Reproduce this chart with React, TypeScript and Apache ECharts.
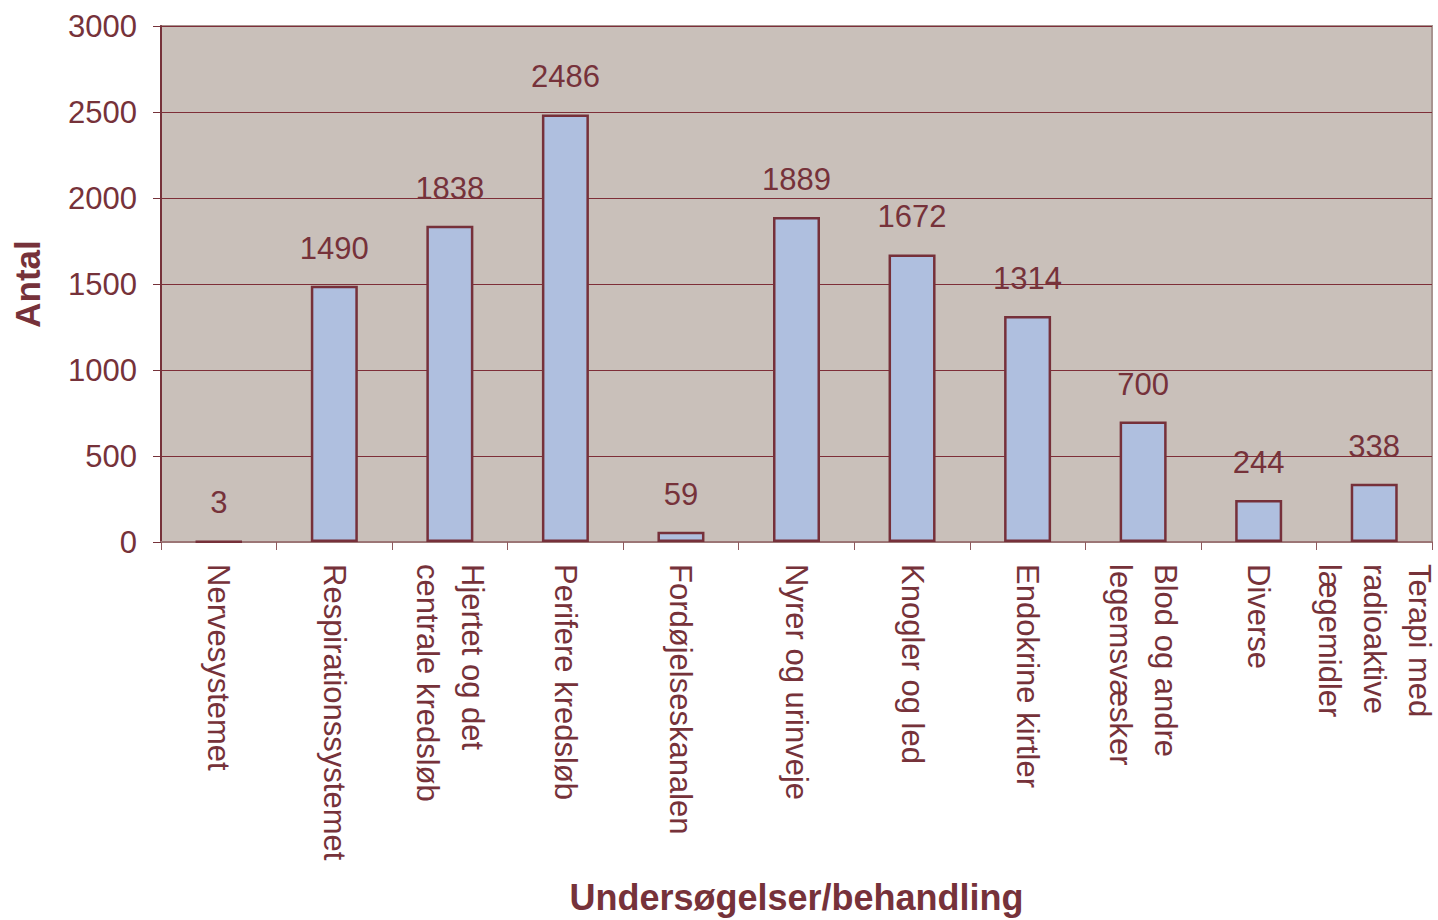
import React, { useEffect, useRef } from "react";
import * as echarts from "echarts";

const categories = [
  "Nervesystemet",
  "Respirationssystemet",
  "Hjertet og det\ncentrale kredsløb",
  "Perifere kredsløb",
  "Fordøjelseskanalen",
  "Nyrer og urinveje",
  "Knogler og led",
  "Endokrine kirtler",
  "Blod og andre\nlegemsvæsker",
  "Diverse",
  "Terapi med\nradioaktive\nlægemidler",
];
const values = [3, 1490, 1838, 2486, 59, 1889, 1672, 1314, 700, 244, 338];
const yAxisName = "Antal";
const xAxisName = "Undersøgelser/behandling";

const TEXT = "#76323A";
const FONT = "'Liberation Sans', Arial, sans-serif";

export default function App() {
  const ref = useRef<HTMLDivElement>(null);
  useEffect(() => {
    if (!ref.current) return;
    const chart = echarts.init(ref.current, undefined, { renderer: "svg" });
    chart.setOption({
      animation: false,
      textStyle: { fontFamily: FONT },
      grid: {
        left: 161,
        right: 6,
        top: 26,
        bottom: 378,
        outerBoundsMode: "none",
        containLabel: false,
        show: true,
        backgroundColor: "#C9C0BA",
        borderColor: "#A89490",
        borderWidth: 2,
      },
      xAxis: {
        type: "category",
        data: categories,
        name: xAxisName,
        nameLocation: "middle",
        nameGap: 337,
        nameMoveOverlap: false,
        nameTextStyle: {
          color: TEXT,
          fontSize: 36,
          fontWeight: "bold",
          fontFamily: FONT,
        },
        axisLine: { lineStyle: { color: "#9C7676", width: 2 } },
        axisTick: { show: true, length: 8, lineStyle: { color: "#8E5A5E", width: 1 } },
        axisLabel: {
          rotate: -90,
          interval: 0,
          margin: 22,
          color: TEXT,
          fontSize: 31,
          lineHeight: 45,
          fontFamily: FONT,
        },
        splitLine: { show: false },
      },
      yAxis: {
        type: "value",
        min: 0,
        max: 3000,
        interval: 500,
        name: yAxisName,
        nameLocation: "middle",
        nameGap: 116,
        nameMoveOverlap: false,
        nameTextStyle: {
          color: TEXT,
          fontSize: 35,
          fontWeight: "bold",
          fontFamily: FONT,
        },
        axisLine: { show: true, lineStyle: { color: "#76323A", width: 2 } },
        axisTick: { show: true, length: 8, lineStyle: { color: "#76323A", width: 1 } },
        axisLabel: {
          margin: 24,
          color: TEXT,
          fontSize: 31,
          fontFamily: FONT,
          formatter: (v: number) => String(v),
        },
        splitLine: { show: true, lineStyle: { color: "#7E2E38", width: 1 } },
      },
      series: [
        {
          type: "bar",
          data: values,
          barWidth: 47,
          itemStyle: { color: "#AFBFDF", borderColor: "#76303A", borderWidth: 2.5 },
          label: {
            show: true,
            position: "top",
            distance: 22,
            color: TEXT,
            fontSize: 31,
            fontFamily: FONT,
          },
        },
      ],
    });
    return () => chart.dispose();
  }, []);
  return (
    <div
      ref={ref}
      style={{ position: "absolute", left: 0, top: 0, width: 1438, height: 920 }}
    />
  );
}
